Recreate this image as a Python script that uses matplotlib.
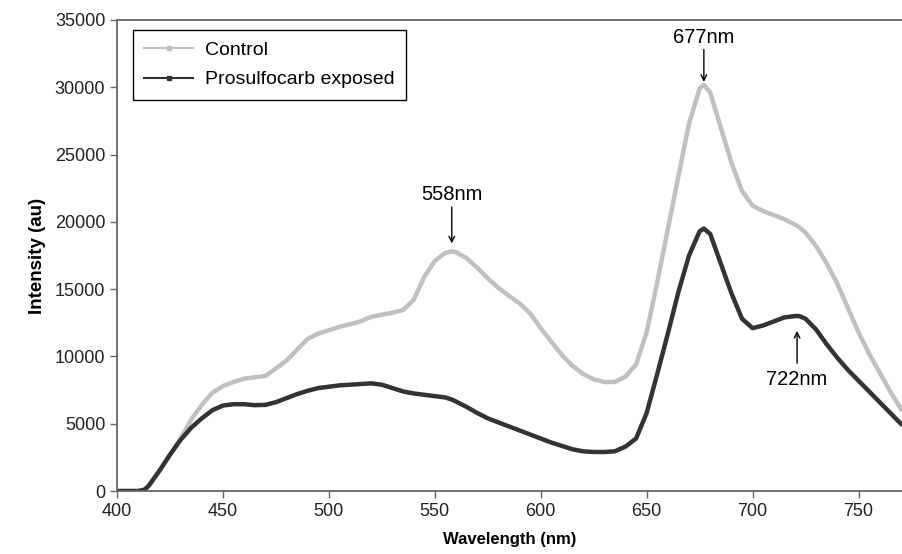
import numpy as np
import matplotlib.pyplot as plt
from matplotlib.lines import Line2D

plt.rcParams['font.family'] = ['Liberation Sans', 'DejaVu Sans']

#%% data

wavelength = [400, 405, 410, 413, 415, 420, 425, 430, 435, 440, 445, 450, 455, 460,
              465, 470, 475, 480, 485, 490, 495, 500, 505, 510, 515, 520, 525, 530,
              535, 540, 545, 550, 555, 558, 560, 565, 570, 575, 580, 585, 590, 595,
              600, 605, 610, 615, 620, 625, 630, 635, 640, 645, 650, 655, 660, 665,
              670, 675, 677, 680, 685, 690, 695, 700, 705, 710, 715, 720, 722, 725,
              730, 735, 740, 745, 750, 755, 760, 765, 770]

control = [0, 0, 0, 100, 400, 1500, 2700, 3900, 5300, 6400, 7300, 7800, 8100, 8350,
           8450, 8550, 9100, 9700, 10500, 11300, 11700, 11950, 12200, 12400, 12600, 12950, 13100, 13250,
           13450, 14200, 15900, 17100, 17700, 17800, 17750, 17300, 16600, 15800, 15100, 14500, 13950, 13200,
           12100, 11100, 10100, 9300, 8700, 8300, 8100, 8100, 8500, 9400, 11800, 15500, 19450, 23400,
           27300, 29900, 30200, 29600, 27000, 24400, 22300, 21200, 20800, 20500, 20200, 19800, 19600, 19200,
           18200, 16900, 15400, 13600, 11800, 10200, 8800, 7400, 6100]

exposed = [0, 0, 0, 100, 400, 1500, 2700, 3800, 4700, 5400, 6000, 6350, 6450, 6450,
           6380, 6400, 6600, 6900, 7200, 7450, 7650, 7750, 7850, 7900, 7950, 8000, 7900, 7650,
           7400, 7250, 7150, 7050, 6950, 6800, 6650, 6250, 5800, 5400, 5100, 4800, 4500, 4200,
           3900, 3600, 3350, 3100, 2950, 2900, 2900, 2950, 3300, 3900, 5800, 8700, 11700, 14800,
           17500, 19300, 19500, 19100, 16900, 14700, 12800, 12100, 12300, 12600, 12900, 13000, 13000, 12800,
           12000, 10900, 9900, 9000, 8200, 7400, 6600, 5800, 5000]

peak_labels = ['558nm', '677nm', '722nm']
peak_x = [558, 677, 721]

#%% plot

fig = plt.figure(figsize=(9.03, 5.54), dpi=100)
ax = fig.add_axes([0.1296, 0.1137, 0.8704, 0.8502])

ax.plot(wavelength, control, color='#c0c0c0', lw=3.2, solid_joinstyle='round')
ax.plot(wavelength, exposed, color='#333333', lw=3.2, solid_joinstyle='round')

ax.set_xlim(400, 771)
ax.set_ylim(0, 35000)
ax.set_xticks(np.arange(400, 751, 50))
ax.set_yticks(np.arange(0, 35001, 5000))
ax.tick_params(labelsize=13, labelcolor='#222222', length=5, width=1, direction='out', color='#666666')

for s in ['left', 'bottom', 'top']:
    ax.spines[s].set_color('#666666')
    ax.spines[s].set_linewidth(1.3)
ax.spines['right'].set_visible(False)

ax.set_xlabel('Wavelength (nm)', fontsize=12, fontweight='bold', labelpad=9)
ax.set_ylabel('Intensity (au)', fontsize=13.5, fontweight='bold', labelpad=6)

# peak annotations
arrow = dict(arrowstyle='->', color='black', lw=1, shrinkA=0, shrinkB=0)
ax.annotate('', xy=(peak_x[0], 18400), xytext=(peak_x[0], 21100), arrowprops=arrow)
ax.text(peak_x[0], 21300, peak_labels[0], ha='center', va='bottom', fontsize=14.5)
ax.annotate('', xy=(peak_x[1], 30400), xytext=(peak_x[1], 32800), arrowprops=arrow)
ax.text(peak_x[1], 33000, peak_labels[1], ha='center', va='bottom', fontsize=14.5)
ax.annotate('', xy=(peak_x[2], 11900), xytext=(peak_x[2], 9500), arrowprops=arrow)
ax.text(peak_x[2], 9000, peak_labels[2], ha='center', va='top', fontsize=14.5)

handles = [Line2D([], [], color='#c0c0c0', lw=1.5, marker='s', markersize=3),
           Line2D([], [], color='#333333', lw=1.5, marker='s', markersize=3)]
leg = ax.legend(handles, ['Control', 'Prosulfocarb exposed'], loc='upper left',
                bbox_to_anchor=(0.02, 0.979), borderaxespad=0, fontsize=14, fancybox=False,
                edgecolor='black', framealpha=1, handlelength=2.5, handletextpad=0.6,
                borderpad=0.6, labelspacing=0.6)
leg.get_frame().set_linewidth(1)

fig.savefig('out.png', dpi=100)
